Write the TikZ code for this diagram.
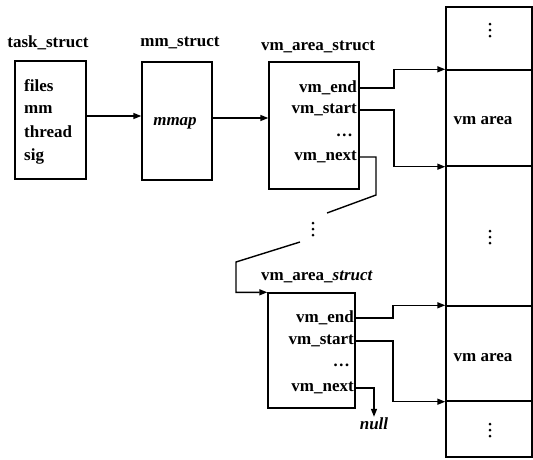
\documentclass[tikz,border=0pt]{standalone}
\usepackage{fontspec}
\setmainfont{Liberation Serif}
\usetikzlibrary{arrows.meta}
\tikzset{
  box/.style={draw, line width=1.4pt, minimum width=#1, inner sep=0pt},
  cell/.style={draw, line width=1.4pt, minimum width=86pt, inner sep=0pt},
  lbl/.style={font=\fontsize{17}{20}\selectfont\bfseries, inner sep=1pt},
  fld/.style={lbl, anchor=east},
  link/.style={line width=1.4pt, -{Triangle[length=8pt,width=6pt]}},
  wire/.style={line width=1.4pt},
  dot/.style={circle, fill, inner sep=0pt, minimum size=3pt}
}
\begin{document}
\begin{tikzpicture}[x=1pt,y=-1pt]
\useasboundingbox (0,0) rectangle (533,459);
% the three structures of the first row
\node[box=71pt, minimum height=118pt] (task) at (50.5,120) {};
\node[box=70pt, minimum height=118pt] (mm) at (177,121) {};
\node[box=90pt, minimum height=127pt] (vma1) at (314,125.5) {};
\node[lbl] (tasktitle) at (48,43) {task\_struct};
\node[lbl] (mmtitle) at (180,43) {mm\_struct};
\node[lbl] (vmatitle1) at (318,47) {vm\_area\_struct};
\foreach \name/\txt/\y in {files/files/86, mmf/mm/109, thread/thread/132, sig/sig/156}
  \node[lbl, anchor=west] (\name) at (23,\y) {\txt};
\node[lbl] (mmap) at (175,123) {\itshape mmap};
\node[fld] (e1) at (358,88) {vm\_end};
\node[fld] (s1) at (358,110) {vm\_start};
\node[fld] (d1) at (354,135) {\dots};
\node[fld] (n1) at (358,157) {vm\_next};
% the second vm_area_struct
\node[box=87pt, minimum height=115pt] (vma2) at (311.5,350.5) {};
\node[lbl] (vmatitle2) at (317,277) {vm\_area\_\textit{struct}};
\node[fld] (e2) at (355,318) {vm\_end};
\node[fld] (s2) at (355,341) {vm\_start};
\node[fld] (d2) at (351,365) {\dots};
\node[fld] (n2) at (355,388) {vm\_next};
\node[lbl] (null) at (374,424) {\itshape null};
% the memory column
\node[cell, minimum height=63pt] (top) at (489,38.5) {};
\node[cell, minimum height=96pt] (area1) at (489,118) {};
\node[cell, minimum height=140pt] (gap) at (489,236) {};
\node[cell, minimum height=95pt] (area2) at (489,353.5) {};
\node[cell, minimum height=56pt] (bottom) at (489,429) {};
\node[lbl] (arealbl1) at (483,121) {vm area};
\node[lbl] (arealbl2) at (483,358) {vm area};
% vertical dots
\foreach \x/\y in {490/30, 490/237, 490/430, 313/229}
  \foreach \dy in {-6,0,6}
    \node[dot] at (\x,\y+\dy) {};
% pointers
\draw[link] (task.east |- 0,116) -- (mm.west |- 0,116);
\draw[link] (mm.east |- 0,118) -- (vma1.west |- 0,118);
\draw[link] (e1.east) -- ++(36,0) |- (area1.north west);
\draw[link] (s1.east) -- ++(36,0) |- (area1.south west);
\draw[link] (e2.east) -- ++(38,0) |- (area2.north west);
\draw[link] (s2.east) -- ++(38,0) |- (area2.south west);
\draw[link] (n2.east) -| (null.north);
% the list between the two vm_area_structs
\coordinate (k1) at (376,195);
\coordinate (k2) at (327,213);
\coordinate (k3) at (300,242);
\coordinate (k4) at (236,262);
\draw[wire] (n1.east) -| (k1) -- (k2);
\draw[link] (k3) -- (k4) |- (vma2.north west);
\end{tikzpicture}
\end{document}
